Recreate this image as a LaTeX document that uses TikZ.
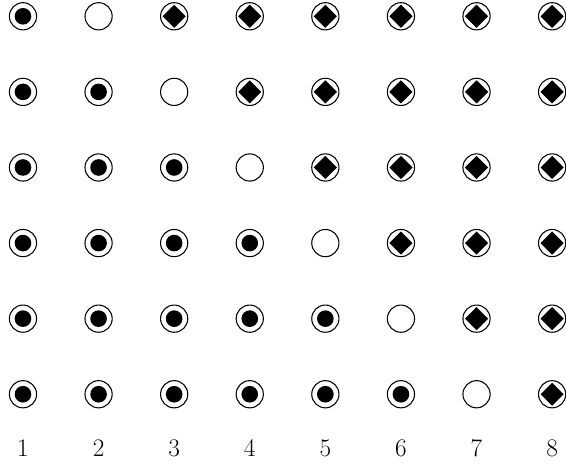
\documentclass[tikz,border=0pt]{standalone}
\usetikzlibrary{shapes.geometric}

\begin{document}
\begin{tikzpicture}[
    ring/.style={circle, draw, line width=0.8pt, minimum size=0.72cm, inner sep=0pt},
    dot/.style={circle, fill=black, minimum size=0.44cm, inner sep=0pt},
    gem/.style={diamond, fill=black, minimum width=0.62cm, minimum height=0.62cm, inner sep=0pt},
    colnum/.style={font=\fontsize{19}{23}\selectfont, inner sep=0pt}
]

% Frame of the picture
\useasboundingbox (0,-12.33) rectangle (14.975,0);

% Grid of marks: dot left of the gap, empty ring at the gap, diamond right of it
\foreach \r in {1,...,6} {
    \pgfmathtruncatemacro{\gap}{\r+1}
    \foreach \c in {1,...,8} {
        \node[ring] (r\r\c) at ({0.608+2*(\c-1)},{-0.431-2*(\r-1)}) {};
        \ifnum\c<\gap
            \node[dot] (m\r\c) at (r\r\c) {};
        \else\ifnum\c>\gap
            \node[gem] (m\r\c) at (r\r\c) {};
        \fi\fi
    }
}

% Column numbers
\foreach \c in {1,...,8}
    \node[colnum] (n\c) at ({0.608+2*(\c-1)},-11.85) {\c};

\end{tikzpicture}
\end{document}
